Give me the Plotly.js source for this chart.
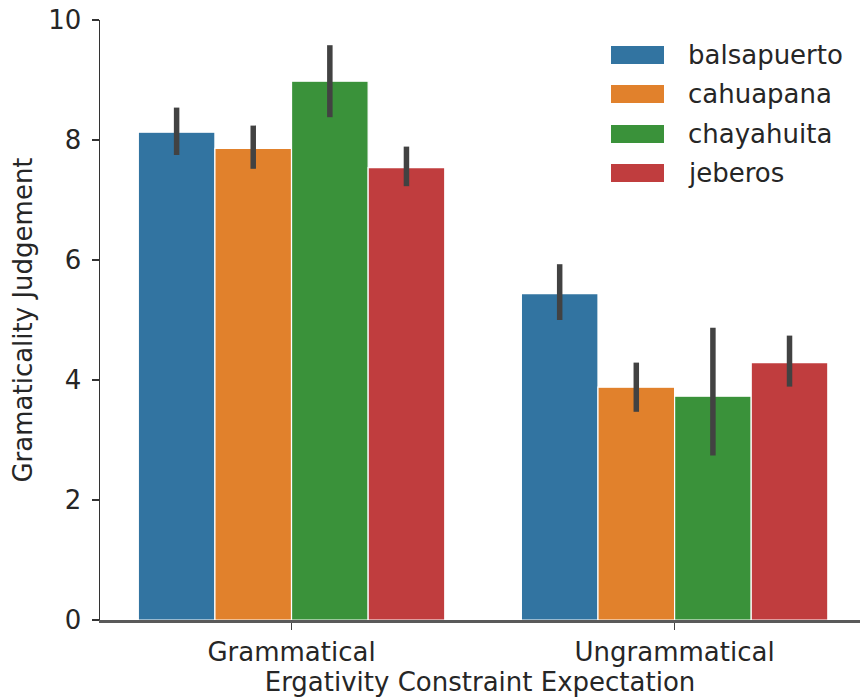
<!DOCTYPE html>
<html>
<head>
<meta charset="utf-8">
<script src="https://cdn.plot.ly/plotly-3.0.1.min.js"></script>
<style>html,body{margin:0;padding:0;background:#fff;}#chart{width:860px;height:700px;}</style>
</head>
<body>
<div id="chart"></div>
<script>
// ---- data ----
const categories = ["Grammatical", "Ungrammatical"];
const seriesNames = ["balsapuerto", "cahuapana", "chayahuita", "jeberos"];
const seriesColors = ["#3274a1", "#e1812c", "#3a923a", "#c03d3e"];
const balsapuerto = [8.13, 5.44];
const cahuapana   = [7.86, 3.88];
const chayahuita  = [8.98, 3.73];
const jeberos     = [7.54, 4.29];
const balsapuertoCI = {low: [7.75, 5.00], high: [8.54, 5.93]};
const cahuapanaCI   = {low: [7.52, 3.47], high: [8.24, 4.29]};
const chayahuitaCI  = {low: [8.38, 2.74], high: [9.58, 4.87]};
const jeberosCI     = {low: [7.23, 3.89], high: [7.89, 4.74]};
const yTicks = [0, 2, 4, 6, 8, 10];

const seriesValues = [balsapuerto, cahuapana, chayahuita, jeberos];
const seriesCI = [balsapuertoCI, cahuapanaCI, chayahuitaCI, jeberosCI];

const FONT = "DejaVu Sans, sans-serif";
const TXT = "#262626";

const traces = seriesNames.map((name, i) => ({
  type: "bar",
  name: name,
  x: categories,
  y: seriesValues[i],
  marker: {color: seriesColors[i], line: {color: "#ffffff", width: 1.2}},
  error_y: {
    type: "data",
    symmetric: false,
    array: seriesValues[i].map((v, k) => seriesCI[i].high[k] - v),
    arrayminus: seriesValues[i].map((v, k) => v - seriesCI[i].low[k]),
    color: "#424242",
    thickness: 5.5,
    width: 0
  },
  showlegend: false,
  hoverinfo: "x+y+name"
}));

// manual legend (wide patches like the reference)
const L = 100, W = 760, T = 20, H = 600;
const px = x => (x - L) / W;
const py = y => (T + H - y) / H;
const legendRows = [55, 94, 134, 173];
const shapes = [];
const annotations = [];
seriesNames.forEach((name, i) => {
  const yc = legendRows[i];
  shapes.push({
    type: "rect", xref: "paper", yref: "paper",
    x0: px(611), x1: px(664), y0: py(yc + 9), y1: py(yc - 9),
    fillcolor: seriesColors[i], line: {width: 0}
  });
  annotations.push({
    xref: "paper", yref: "paper", x: px(686), y: py(yc),
    xanchor: "left", yanchor: "middle", showarrow: false,
    text: name, font: {family: FONT, size: 26, color: TXT}
  });
});

const layout = {
  width: 860, height: 700,
  margin: {l: L, r: 0, t: T, b: 80, pad: 0},
  paper_bgcolor: "#ffffff", plot_bgcolor: "#ffffff",
  barmode: "group", bargap: 0.2, bargroupgap: 0,
  font: {family: FONT, size: 26, color: TXT},
  showlegend: false,
  xaxis: {
    range: [-0.5, 1.484],
    showgrid: false, zeroline: false,
    showline: true, linecolor: "#5a5a5a", linewidth: 2.5,
    ticks: "outside", ticklen: 7, tickwidth: 1.5, tickcolor: "#444444",
    tickfont: {family: FONT, size: 26, color: TXT},
    title: {text: "Ergativity Constraint Expectation", font: {family: FONT, size: 26, color: TXT}, standoff: 7},
    automargin: false, fixedrange: true
  },
  yaxis: {
    range: [0, 10],
    tickvals: yTicks, ticktext: yTicks.map(String),
    showgrid: false, zeroline: false,
    showline: true, linecolor: "#333333", linewidth: 1.5,
    ticks: "outside", ticklen: 7, tickwidth: 1.5, tickcolor: "#333333",
    ticklabelstandoff: 5,
    tickfont: {family: FONT, size: 26, color: TXT},
    title: {text: "Gramaticality Judgement", font: {family: FONT, size: 26, color: TXT}, standoff: 8},
    automargin: false, fixedrange: true
  },
  shapes: shapes,
  annotations: annotations
};

Plotly.newPlot("chart", traces, layout, {staticPlot: true, displayModeBar: false});
</script>
</body>
</html>
